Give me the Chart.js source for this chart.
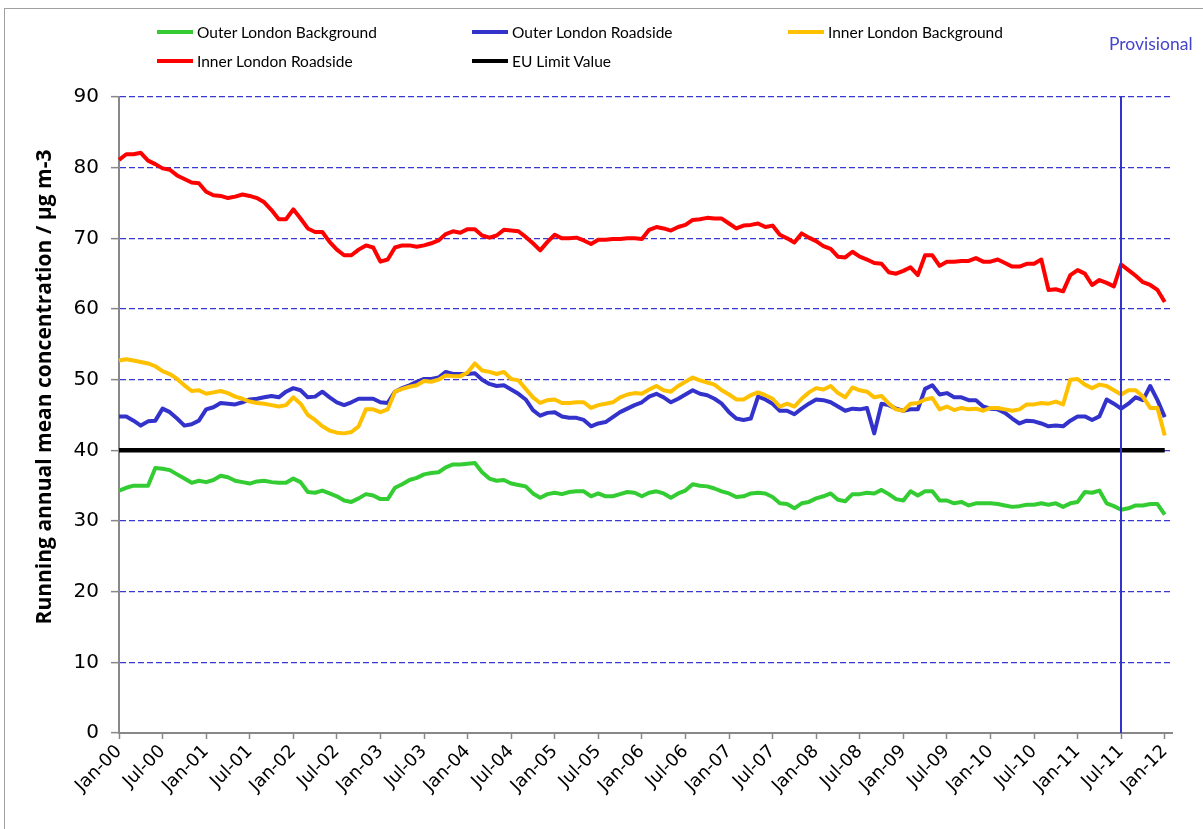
<!DOCTYPE html>
<html lang="en">
<head>
<meta charset="UTF-8">
<title>London NO2 running annual mean</title>
<script src="https://cdn.jsdelivr.net/npm/chart.js"></script>
<style>
  body { margin: 0; background: #fff; font-family: Lato, sans-serif; }
  .wrap { position: relative; width: 1203px; height: 829px; }
  #chart { position: absolute; left: 0; top: 0; }
  .legend-item { position: absolute; display: flex; align-items: center; font-size: 15.5px; color: #000; white-space: nowrap; transform: translateY(-50%); }
  .legend-item .swatch { display: inline-block; width: 36px; height: 4px; margin-right: 4px; }
</style>
</head>
<body>
<div class="wrap">
  <canvas id="chart" width="1203" height="829"></canvas>
  <div id="legend"></div>
</div>
<script>
// categories: monthly, Jan-00 .. Feb-12 (axis runs one month past the last value)
const monthNames = ['Jan','Feb','Mar','Apr','May','Jun','Jul','Aug','Sep','Oct','Nov','Dec'];
const years = ['00','01','02','03','04','05','06','07','08','09','10','11','12'];
const categories = [];
years.forEach(y => monthNames.forEach(m => categories.push(m + '-' + y)));
categories.splice(categories.indexOf('Mar-12'));

const provisionalFrom = 'Jul-11';
const euLimit = 40;
const yTitle = 'Running annual mean concentration / µg m-3';

const outerBackground = [
  34.3,34.7,35.0,35.0,35.0,37.5,37.4,37.2,36.6,36.0,35.4,35.7,
  35.5,35.8,36.4,36.2,35.7,35.5,35.3,35.6,35.7,35.5,35.4,35.4,
  36.0,35.5,34.1,34.0,34.3,33.9,33.5,32.9,32.7,33.2,33.8,33.6,
  33.1,33.1,34.7,35.2,35.8,36.1,36.6,36.8,36.9,37.6,38.0,38.0,
  38.1,38.2,36.9,36.0,35.7,35.8,35.3,35.1,34.9,33.9,33.3,33.8,
  34.0,33.8,34.1,34.2,34.2,33.5,33.9,33.5,33.5,33.8,34.1,34.0,
  33.5,34.0,34.2,33.9,33.3,33.9,34.3,35.2,35.0,34.9,34.6,34.2,
  33.9,33.4,33.5,33.9,34.0,33.9,33.4,32.5,32.4,31.8,32.5,32.7,
  33.2,33.5,33.9,33.0,32.8,33.8,33.8,34.0,33.9,34.4,33.8,33.1,
  32.9,34.2,33.6,34.2,34.2,32.9,32.9,32.5,32.7,32.2,32.5,32.5,
  32.5,32.4,32.2,32.0,32.1,32.3,32.3,32.5,32.3,32.5,32.0,32.5,
  32.7,34.1,34.0,34.3,32.5,32.1,31.6,31.8,32.2,32.2,32.4,32.4,
  30.9
];
const outerRoadside = [
  44.8,44.8,44.2,43.5,44.1,44.2,45.9,45.4,44.5,43.5,43.7,44.2,
  45.8,46.1,46.7,46.6,46.5,46.8,47.2,47.3,47.5,47.7,47.5,48.3,
  48.8,48.5,47.5,47.6,48.3,47.5,46.8,46.4,46.8,47.3,47.3,47.3,
  46.8,46.7,48.3,48.8,49.2,49.7,50.1,50.1,50.3,51.1,50.8,50.8,
  50.8,50.9,50.0,49.4,49.1,49.2,48.6,48.0,47.2,45.7,44.9,45.3,
  45.4,44.8,44.6,44.6,44.3,43.4,43.8,44.0,44.7,45.4,45.9,46.4,
  46.8,47.6,48.0,47.5,46.8,47.3,47.9,48.5,48.0,47.8,47.3,46.6,
  45.4,44.5,44.3,44.5,47.6,47.2,46.6,45.6,45.6,45.1,45.9,46.6,
  47.2,47.1,46.8,46.2,45.6,45.9,45.8,46.0,42.4,46.6,46.4,45.9,
  45.6,45.8,45.8,48.7,49.2,47.9,48.1,47.5,47.5,47.1,47.1,46.2,
  45.9,45.8,45.3,44.5,43.8,44.2,44.1,43.8,43.4,43.5,43.4,44.2,
  44.8,44.8,44.3,44.8,47.2,46.6,45.9,46.6,47.5,47.1,49.1,47.1,
  44.7
];
const innerBackground = [
  52.7,52.9,52.7,52.5,52.3,51.9,51.2,50.8,50.1,49.2,48.4,48.5,
  48.0,48.2,48.4,48.1,47.6,47.3,46.9,46.7,46.6,46.4,46.2,46.4,
  47.5,46.6,45.0,44.3,43.4,42.8,42.5,42.4,42.6,43.4,45.8,45.8,
  45.4,45.8,48.3,48.7,49.0,49.2,49.8,49.7,50.0,50.6,50.5,50.5,
  51.0,52.3,51.3,51.1,50.8,51.1,50.1,49.9,48.7,47.5,46.7,47.1,
  47.2,46.7,46.7,46.8,46.8,46.0,46.4,46.6,46.8,47.5,47.9,48.1,
  48.0,48.6,49.1,48.5,48.3,49.1,49.7,50.3,49.9,49.6,49.3,48.5,
  47.9,47.2,47.2,47.8,48.2,47.8,47.3,46.2,46.6,46.2,47.3,48.2,
  48.8,48.6,49.1,48.1,47.5,48.9,48.5,48.3,47.5,47.7,46.6,45.8,
  45.6,46.6,46.7,47.2,47.4,45.8,46.2,45.7,46.0,45.8,45.9,45.6,
  46.0,46.0,45.8,45.6,45.8,46.5,46.5,46.7,46.6,46.9,46.5,50.0,
  50.1,49.3,48.8,49.3,49.1,48.5,47.9,48.5,48.5,47.6,46.0,46.0,
  42.1
];
const innerRoadside = [
  81.1,81.9,81.9,82.1,81.0,80.5,79.9,79.7,78.9,78.4,77.9,77.8,
  76.6,76.1,76.0,75.7,75.9,76.2,76.0,75.7,75.1,74.0,72.7,72.7,
  74.1,72.8,71.4,70.9,70.9,69.5,68.4,67.6,67.6,68.4,69.0,68.7,
  66.7,67.0,68.7,69.0,69.0,68.8,69.0,69.3,69.7,70.6,71.0,70.8,
  71.3,71.3,70.4,70.1,70.4,71.2,71.1,71.0,70.2,69.3,68.3,69.5,
  70.5,70.0,70.0,70.1,69.7,69.2,69.8,69.8,69.9,69.9,70.0,70.0,
  69.9,71.2,71.6,71.4,71.1,71.6,71.9,72.6,72.7,72.9,72.8,72.8,
  72.1,71.4,71.8,71.9,72.1,71.6,71.8,70.5,70.0,69.4,70.7,70.1,
  69.6,68.9,68.5,67.4,67.3,68.1,67.4,67.0,66.5,66.4,65.2,65.0,
  65.4,65.9,64.8,67.6,67.6,66.1,66.7,66.7,66.8,66.8,67.2,66.7,
  66.7,67.0,66.5,66.0,66.0,66.4,66.4,67.0,62.7,62.8,62.5,64.8,
  65.5,65.0,63.4,64.1,63.7,63.2,66.3,65.5,64.7,63.8,63.4,62.7,
  61.0
];

const lastValueLabel = categories[innerRoadside.length - 1];

const datasets = [
  { label: 'Outer London Background', data: outerBackground, borderColor: '#33cc33', order: 5 },
  { label: 'Outer London Roadside', data: outerRoadside, borderColor: '#3333cc', order: 4 },
  { label: 'Inner London Background', data: innerBackground, borderColor: '#ffc000', order: 3 },
  { label: 'Inner London Roadside', data: innerRoadside, borderColor: '#ff0000', order: 2 },
  { label: 'EU Limit Value', data: [{ x: categories[0], y: euLimit }, { x: lastValueLabel, y: euLimit }],
    borderColor: '#000000', borderWidth: 4.5, order: 1 }
];

// html legend, three columns like the original
const legendSpots = [[157, 32], [472, 32], [788, 32], [157, 61], [472, 61]];
const legendEl = document.getElementById('legend');
datasets.forEach((ds, i) => {
  const item = document.createElement('div');
  item.className = 'legend-item';
  item.style.left = legendSpots[i][0] + 'px';
  item.style.top = legendSpots[i][1] + 'px';
  item.innerHTML = `<span class="swatch" style="background:${ds.borderColor}"></span>${ds.label}`;
  legendEl.appendChild(item);
});

const frame = {
  id: 'frame',
  beforeDraw(chart) {
    const ctx = chart.ctx;
    ctx.save();
    ctx.strokeStyle = '#a0a0a0';
    ctx.lineWidth = 1;
    ctx.strokeRect(4.5, 8.5, 1300, 900);
    ctx.restore();
  }
};

// y title sits a little above the plot's middle in the original
const axisTitle = {
  id: 'axisTitle',
  afterDraw(chart) {
    const { ctx, chartArea } = chart;
    ctx.save();
    ctx.translate(45, (chartArea.top + chartArea.bottom) / 2 - 28);
    ctx.rotate(-Math.PI / 2);
    ctx.fillStyle = '#000';
    ctx.font = 'bold 21px "Open Sans"';
    ctx.textAlign = 'center';
    ctx.textBaseline = 'middle';
    ctx.fillText(yTitle, 0, 0);
    ctx.restore();
  }
};

const provisional = {
  id: 'provisional',
  afterDatasetsDraw(chart) {
    const { ctx, chartArea, scales } = chart;
    const x = Math.round(scales.x.getPixelForValue(categories.indexOf(provisionalFrom)));
    ctx.save();
    ctx.strokeStyle = '#3333cc';
    ctx.lineWidth = 2;
    ctx.beginPath();
    ctx.moveTo(x, chartArea.top);
    ctx.lineTo(x, chartArea.bottom);
    ctx.stroke();
    ctx.fillStyle = '#4444cc';
    ctx.font = '17.5px Lato';
    ctx.textBaseline = 'middle';
    ctx.fillText('Provisional', x - 12, 44);
    ctx.restore();
  }
};

new Chart(document.getElementById('chart'), {
  type: 'line',
  data: { labels: categories, datasets: datasets },
  plugins: [frame, provisional, axisTitle],
  options: {
    responsive: false,
    animation: false,
    layout: { padding: { top: 97, right: 31, left: 32, bottom: 0 } },
    plugins: { legend: { display: false }, tooltip: { enabled: false } },
    elements: {
      point: { radius: 0 },
      line: { tension: 0, borderWidth: 4, borderJoinStyle: 'round', fill: false }
    },
    scales: {
      x: {
        grid: { display: true, drawOnChartArea: false, drawTicks: true, tickLength: 6, tickColor: '#888', tickWidth: 1.5 },
        border: { color: '#888', width: 2 },
        ticks: {
          autoSkip: false, minRotation: 45, maxRotation: 45, padding: 2,
          color: '#000', font: { family: 'DejaVu Sans', size: 18 },
          callback: (v, i) => (i % 6 === 0 ? categories[i] : null)
        },
        afterFit: s => { s.height = 96; }
      },
      y: {
        min: 0, max: 90,
        ticks: { stepSize: 10, padding: 12, color: '#000', font: { family: 'DejaVu Sans', size: 20 } },
        grid: {
          color: c => (c.tick && c.tick.value === 0 ? 'rgba(0,0,0,0)' : '#3838d0'),
          lineWidth: 1.3, tickColor: '#888', tickLength: 8, tickWidth: 1.5
        },
        border: { color: '#888', width: 2, dash: [6, 3] },
        afterFit: s => { s.width = 87; }
      }
    }
  }
});
</script>
</body>
</html>
